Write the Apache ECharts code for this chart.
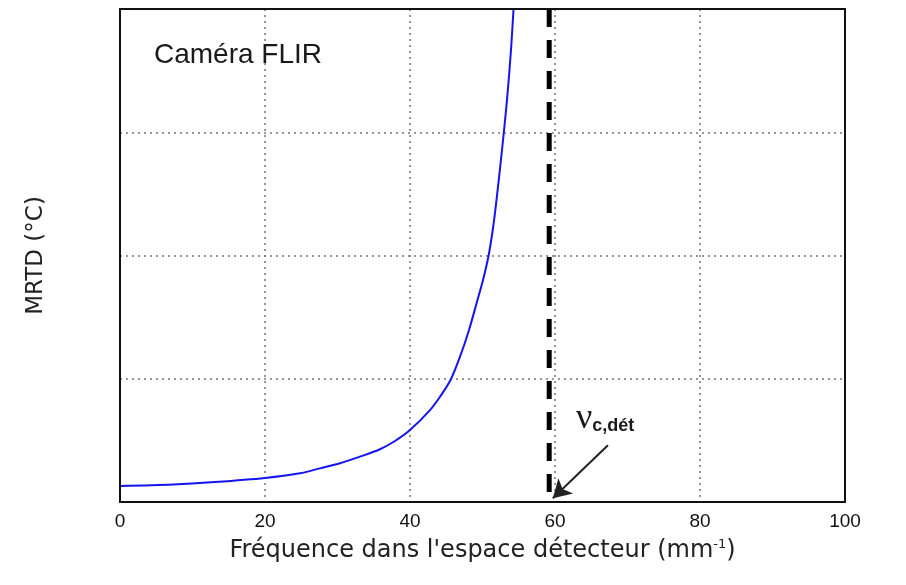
<!DOCTYPE html>
<html>
<head>
<meta charset="utf-8">
<script src="https://cdn.jsdelivr.net/npm/echarts@6/dist/echarts.min.js"></script>
<style>html,body{margin:0;padding:0;background:#fff}#c{width:906px;height:585px}</style>
</head>
<body>
<div id="c"></div>
<script>
// Data
var freq = [0, 7.31, 13.1, 20.0, 24.83, 27.59, 30.34, 33.10, 35.86, 37.93, 40.0, 42.76, 44.14, 45.59, 46.90, 48.14, 49.31, 50.07, 50.83, 51.45, 51.93, 52.69, 53.38, 53.93, 54.28];
var mrtd = [0.130, 0.142, 0.162, 0.195, 0.233, 0.273, 0.314, 0.368, 0.428, 0.495, 0.584, 0.746, 0.854, 0.990, 1.179, 1.396, 1.639, 1.801, 1.996, 2.223, 2.450, 2.856, 3.262, 3.667, 4.0];
var xTicks = [0, 20, 40, 60, 80, 100];
var cutoffFreq = 59.2;
var yRange = [0, 4];

var chart = echarts.init(document.getElementById('c'), null, {renderer: 'canvas'});
var font = 'Liberation Sans, Arial, sans-serif';
var wide = 'DejaVu Sans, sans-serif';
var option = {
  animation: false,
  backgroundColor: '#fff',
  title: {
    text: 'Caméra FLIR', left: 149, top: 36,
    textStyle: {fontFamily: font, fontSize: 28, fontWeight: 'normal', color: '#1a1a1a'}
  },
  grid: {left: 120, right: 61, top: 9, bottom: 83, show: true, borderColor: '#111', borderWidth: 2, z: 5},
  xAxis: {
    type: 'value', min: 0, max: 100, interval: 20,
    name: 'Fréquence dans l\'espace détecteur (mm{sup|-1})',
    nameLocation: 'middle', nameGap: 36,
    nameTextStyle: {fontFamily: wide, fontSize: 24, color: '#222',
      rich: {sup: {fontFamily: wide, fontSize: 13, color: '#222', verticalAlign: 'top', padding: [0,0,12,0]}}},
    axisLine: {show: true, lineStyle: {color: '#111', width: 2}},
    axisTick: {show: false},
    axisLabel: {fontFamily: font, fontSize: 19, color: '#111', margin: 10,
      formatter: function (v) { return xTicks.indexOf(v) >= 0 ? String(v) : ''; }},
    splitLine: {show: true, showMinLine: false, showMaxLine: false, lineStyle: {color: '#777', width: 1.5, type: [2, 4]}}
  },
  yAxis: {
    type: 'value', min: yRange[0], max: yRange[1], interval: 1,
    name: 'MRTD (°C)', nameLocation: 'middle', nameGap: 72, nameRotate: 90,
    nameTextStyle: {fontFamily: wide, fontSize: 23, color: '#222'},
    axisLine: {show: true, lineStyle: {color: '#111', width: 2}},
    axisTick: {show: false},
    axisLabel: {show: false},
    splitLine: {show: true, showMinLine: false, showMaxLine: false, lineStyle: {color: '#777', width: 1.5, type: [2, 4]}}
  },
  series: [
    {
      type: 'line', data: freq.map(function (f, i) { return [f, mrtd[i]]; }),
      showSymbol: false, smooth: 0.3, clip: true,
      lineStyle: {color: '#1414f0', width: 2}, z: 3
    },
    {
      type: 'line', data: [[cutoffFreq, yRange[1]], [cutoffFreq, yRange[0]]],
      showSymbol: false, lineStyle: {color: '#000', width: 5, type: [18, 13]}, z: 4,
      markLine: {
        silent: true, symbol: ['none', 'arrow'], symbolSize: [16, 18],
        lineStyle: {color: '#222', width: 2, type: 'solid'}, label: {show: false},
        data: [[{coord: [67.3, 0.46]}, {coord: [59.7, 0.03]}]]
      },
      markPoint: {
        silent: true, symbol: 'circle', symbolSize: 0,
        data: [{coord: [62.9, 0.68]}],
        label: {
          show: true, position: 'right', distance: 0,
          formatter: '{nu|ν}{sub|c,dét}',
          rich: {
            nu: {fontFamily: 'Liberation Serif, Times New Roman, serif', fontSize: 36, color: '#1a1a1a', verticalAlign: 'bottom'},
            sub: {fontFamily: font, fontSize: 18, fontWeight: 'bold', color: '#1a1a1a', padding: [16, 0, 0, 0]}
          }
        }
      }
    }
  ]
};
chart.setOption(option);
</script>
</body>
</html>
